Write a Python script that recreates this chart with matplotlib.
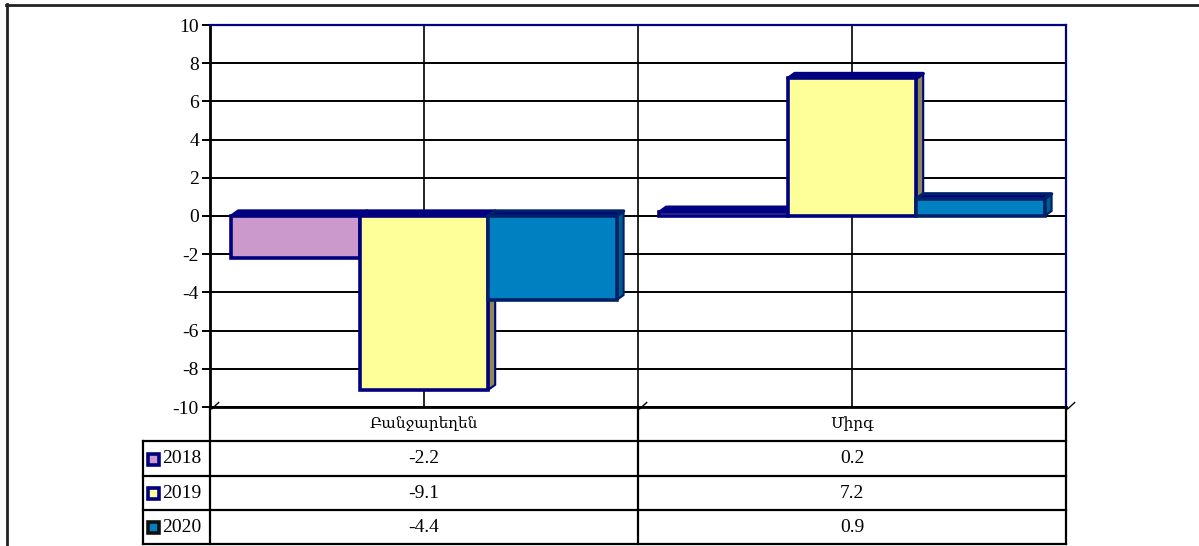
import matplotlib
matplotlib.use('Agg')
import matplotlib.pyplot as plt
from matplotlib.lines import Line2D
from matplotlib.patches import Rectangle
import matplotlib.transforms as mtransforms

# data
CATEGORIES = ["Բանջարեղեն", "Միրգ"]
YEARS = ["2018", "2019", "2020"]
VALUES_2018 = [-2.2, 0.2]
VALUES_2019 = [-9.1, 7.2]
VALUES_2020 = [-4.4, 0.9]
Y_TICKS = [10, 8, 6, 4, 2, 0, -2, -4, -6, -8, -10]

SERIES = [VALUES_2018, VALUES_2019, VALUES_2020]
FRONT = ['#CC99CC', '#FFFF99', '#0080C0']
SIDE = ['#8C648C', '#8A8A55', '#005C8C']
EDGE = ['#000080', '#000080', '#00206A']
NAVY = '#000080'

plt.rcParams['font.family'] = ['Liberation Serif', 'DejaVu Serif']
FS = 14

W, H = 1199, 546
fig = plt.figure(figsize=(W / 100, H / 100), dpi=100)


def fx(px):
    return px / W


def fy(py):
    return 1 - py / H


# plot area in pixels
left, right, top, bottom = 210, 1066, 25, 407
ax = fig.add_axes([fx(left), fy(bottom), fx(right - left), fy(top) - fy(bottom)])
ax.set_xlim(-0.5, 1.5)
ax.set_ylim(-10, 10)

# depth of the 3d effect, in data units (about 7px right, 5px up)
dx = 7 / ((right - left) / 2)
dy = 5 / ((bottom - top) / 20)

# gridlines
for y in Y_TICKS:
    ax.axhline(y, color='black', lw=1.4, zorder=0)
for x in [0, 0.5, 1]:
    ax.axvline(x, color='black', lw=1.2, zorder=0)

width = 0.3
z = 2
for c in range(len(CATEGORIES)):
    for s, vals in enumerate(SERIES):
        v = vals[c]
        x0 = c + (s - 1) * width - width / 2
        x1 = x0 + width
        hi = max(v, 0)
        lo = min(v, 0)
        # side face
        ax.fill([x1, x1 + dx, x1 + dx, x1], [lo, lo + dy, hi + dy, hi],
                facecolor=SIDE[s], edgecolor=EDGE[s], lw=1.5, zorder=z)
        # top face
        ax.fill([x0, x1, x1 + dx, x0 + dx], [hi, hi, hi + dy, hi + dy],
                facecolor=NAVY, edgecolor=EDGE[s], lw=2.4, joinstyle='round', zorder=z)
        # front face
        ax.bar(x0 + width / 2, v, width=width, color=FRONT[s], edgecolor=EDGE[s],
               linewidth=2.6, zorder=z + 0.5)
        z += 1

for sp in ['top', 'right']:
    ax.spines[sp].set_color(NAVY)
    ax.spines[sp].set_linewidth(1.6)
ax.spines['left'].set_linewidth(2)
ax.spines['bottom'].set_linewidth(2)
ax.set_yticks(Y_TICKS)
ax.set_yticklabels([str(t) for t in Y_TICKS])
ax.tick_params(axis='y', length=6, width=1.4, labelsize=FS, pad=2)
ax.set_xticks([])

# small depth ticks on the category axis
for xb in [-0.5, 0.5, 1.5]:
    ax.plot([xb + 0.004, xb + 0.004 + dx], [-10.1, -10 + dy * 0.9], color='black',
            lw=1.0, clip_on=False, zorder=10)

# data table under the plot
rows_y = [407, 441, 476, 510, 544]
blend = mtransforms.blended_transform_factory(ax.transData, fig.transFigure)
col_x = [-0.5, 0.5, 1.5]
for xb in col_x:
    fig.add_artist(Line2D([xb, xb], [fy(rows_y[0]), fy(rows_y[-1])], transform=blend,
                          color='black', lw=1.6))
fig.add_artist(Line2D([fx(143), fx(143)], [fy(rows_y[1]), fy(rows_y[-1])], color='black', lw=1.6))
for ry in rows_y[1:]:
    fig.add_artist(Line2D([fx(143), fx(right)], [fy(ry), fy(ry)], color='black', lw=1.6))

for c, name in enumerate(CATEGORIES):
    fig.text(c, fy(424), name, transform=blend, ha='center', va='center', fontsize=11)
    for s, vals in enumerate(SERIES):
        ry = (rows_y[s + 1] + rows_y[s + 2]) / 2
        fig.text(c, fy(ry), str(vals[c]), transform=blend, ha='center', va='center',
                 fontsize=FS)

legend_edges = [NAVY, NAVY, '#101010']
for s, year in enumerate(YEARS):
    ry = (rows_y[s + 1] + rows_y[s + 2]) / 2
    fig.add_artist(Rectangle((fx(147.5), fy(ry + 6)), fx(11), fy(0) - fy(11),
                             facecolor=FRONT[s], edgecolor=legend_edges[s], lw=2.6))
    fig.text(fx(162), fy(ry), year, ha='left', va='center', fontsize=FS)

# outer frame of the picture
fig.add_artist(Line2D([fx(6), 1], [fy(4.5), fy(4.5)], color='#222222', lw=2))
fig.add_artist(Line2D([fx(6.5), fx(6.5)], [fy(4), 0], color='#222222', lw=2))

fig.savefig('out.png', dpi=100)
